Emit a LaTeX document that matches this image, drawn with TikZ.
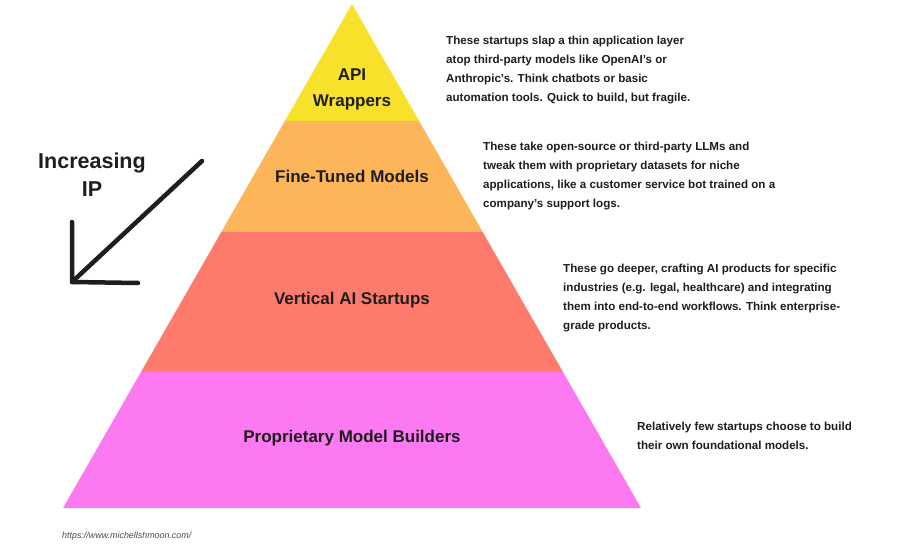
\documentclass[tikz,border=0pt]{standalone}
\usepackage{fontspec}
\setmainfont{Liberation Sans}
\definecolor{lyellow}{HTML}{F7E12B}
\definecolor{lorange}{HTML}{FDB55A}
\definecolor{lred}{HTML}{FD7B6C}
\definecolor{lpink}{HTML}{FC79F2}
\definecolor{txt}{HTML}{1E1E1E}
\begin{document}
\begin{tikzpicture}[x=1pt,y=-1pt,
  lab/.style={font=\bfseries\fontsize{17}{26}\selectfont, text=txt, align=center},
  desc/.style={font=\bfseries\fontsize{11.6}{19}\selectfont, text=txt, align=left, anchor=base west, inner sep=0pt},
  big/.style={font=\bfseries\fontsize{21.5}{28}\selectfont, text=txt, align=center}]
\fill[white] (0,0) rectangle (898,545);
\useasboundingbox (0,0) rectangle (898,545);
% pyramid layers
\fill[lyellow] (352,4) -- (419.1,121) -- (284.9,121) -- cycle;
\fill[lorange] (284.9,121) -- (419.1,121) -- (482.7,232) -- (221.3,232) -- cycle;
\fill[lred] (221.3,232) -- (482.7,232) -- (563,372) -- (141,372) -- cycle;
\fill[lpink] (141,372) -- (563,372) -- (641,508) -- (63,508) -- cycle;
% labels
\node[lab] (api) at (352,89) {API\\Wrappers};
\node[lab] (ft) at (352,176) {Fine-Tuned Models};
\node[lab] (va) at (352,300) {Vertical AI Startups};
\node[lab] (pm) at (352,438) {Proprietary Model Builders};
% descriptions (anchored at the baseline of the last line)
\node[desc] (d1) at (446,102) {These startups slap a thin application layer\\atop third-party models like OpenAI’s or\\Anthropic’s. Think chatbots or basic\\automation tools. Quick to build, but fragile.};
\node[desc] (d2) at (483,208) {These take open-source or third-party LLMs and\\tweak them with proprietary datasets for niche\\applications, like a customer service bot trained on a\\company’s support logs.};
\node[desc] (d3) at (563,330) {These go deeper, crafting AI products for specific\\industries (e.g. legal, healthcare) and integrating\\them into end-to-end workflows. Think enterprise-\\grade products.};
\node[desc] (d4) at (637,450) {Relatively few startups choose to build\\their own foundational models.};
% increasing IP
\node[big] (inc) at (92,175) {Increasing\\IP};
\coordinate (as) at (202,161);
\coordinate (at) at (72,282);
\coordinate (av) at (72,222);
\coordinate (ah) at (138,283);
\draw[line width=4.5pt, line cap=round, line join=round, txt] (as) -- (at);
\draw[line width=4.5pt, line cap=round, line join=round, txt] (av) -- (at) -- (ah);
% url
\node[font=\itshape\fontsize{8.9}{10}\selectfont, text=txt!80, anchor=west, inner sep=0pt] (url) at (62,536) {https://www.michellshmoon.com/};
\end{tikzpicture}
\end{document}
